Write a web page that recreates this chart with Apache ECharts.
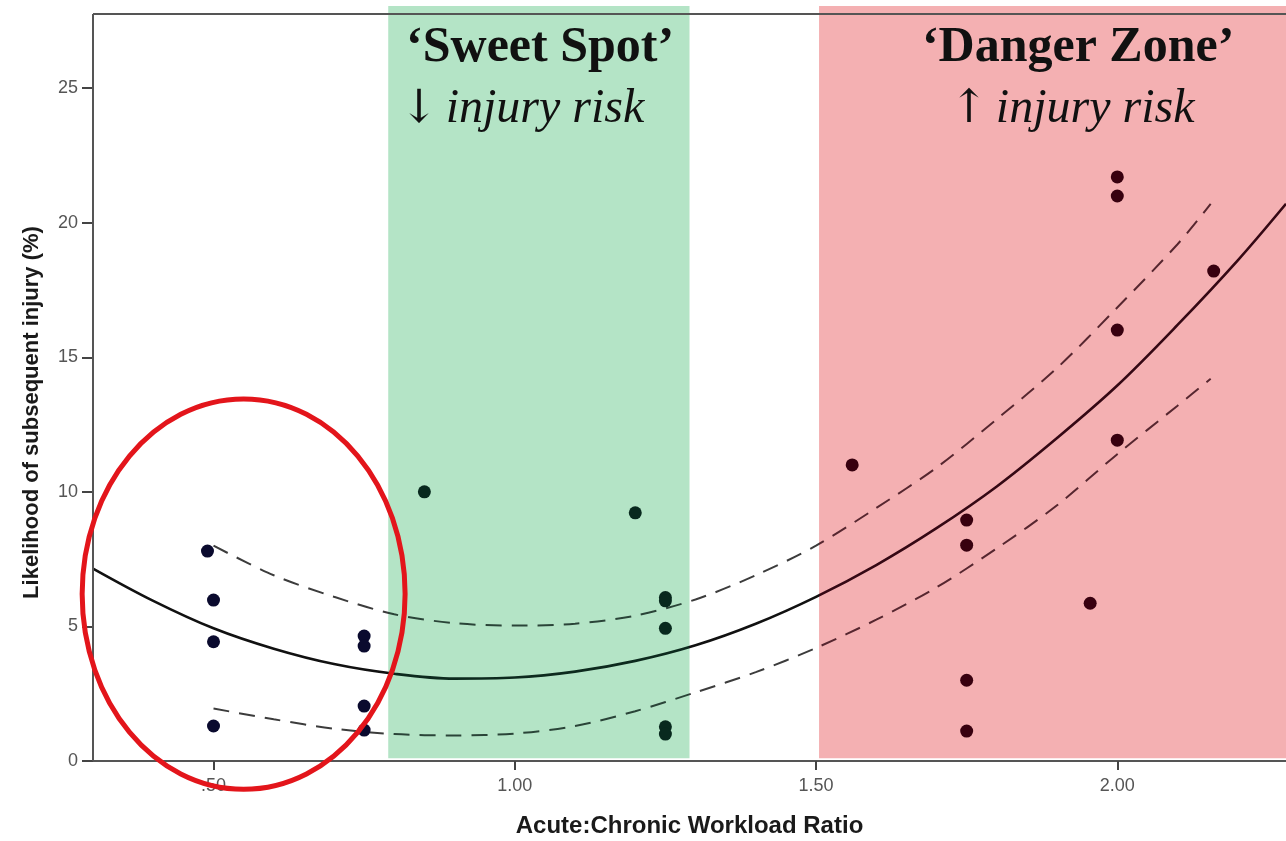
<!DOCTYPE html>
<html>
<head>
<meta charset="utf-8">
<script src="https://cdn.jsdelivr.net/npm/echarts@6/dist/echarts.min.js"></script>
<style>
  html, body { margin: 0; padding: 0; background: #fff; }
  #main { width: 1286px; height: 841px; }
</style>
</head>
<body>
<div id="main"></div>
<script>
// 坐标轴刻度
var xTicks = [0.5, 1.0, 1.5, 2.0];
var xTickLabels = ['.50', '1.00', '1.50', '2.00'];
var yTicks = [0, 5, 10, 15, 20, 25];

// 区域（Sweet Spot / Danger Zone）
var sweetSpot = [0.79, 1.29];
var dangerZone = [1.505, 2.28];

// 散点
var pointX = [0.49, 0.5, 0.5, 0.5, 0.75, 0.75, 0.75, 0.75,
  0.85, 1.2, 1.25, 1.25, 1.25, 1.25, 1.25,
  1.56, 1.75, 1.75, 1.75, 1.75, 1.955, 2.0, 2.0, 2.0, 2.0, 2.16];
var pointY = [7.8, 5.98, 4.43, 1.3, 4.64, 4.27, 2.04, 1.15,
  10.0, 9.22, 6.07, 5.95, 4.93, 1.27, 1.0,
  11.0, 8.95, 8.02, 3.0, 1.11, 5.86, 21.7, 20.99, 16.01, 11.92, 18.2];

// 拟合曲线
var fitX = [0.3, 0.4, 0.5, 0.6, 0.7, 0.8, 0.9, 1.0, 1.1, 1.2, 1.3, 1.4, 1.5, 1.6, 1.7, 1.8, 1.9, 2.0, 2.1, 2.2, 2.28];
var fitY = [7.15, 5.95, 4.93, 4.17, 3.6, 3.24, 3.06, 3.1, 3.32, 3.72, 4.3, 5.1, 6.1, 7.28, 8.65, 10.2, 12.0, 13.95, 16.2, 18.6, 20.7];

// 置信区间
var ciX = [0.5, 0.6, 0.7, 0.8, 0.9, 1.0, 1.1, 1.2, 1.3, 1.4, 1.5, 1.6, 1.7, 1.8, 1.9, 2.0, 2.1, 2.155];
var upperY = [8.0, 6.9, 6.1, 5.45, 5.12, 5.03, 5.1, 5.4, 6.0, 6.9, 8.0, 9.4, 10.9, 12.7, 14.6, 16.85, 19.2, 20.7];
var lowerY = [1.95, 1.55, 1.2, 1.0, 0.95, 1.02, 1.3, 1.85, 2.55, 3.3, 4.2, 5.25, 6.45, 7.9, 9.5, 11.4, 13.2, 14.2];

// 红圈
var ringCenter = [0.55, 6.2];
var ringRadius = [0.268, 7.25];

var xMin = 0.3, xMax = 2.28, yMax = 28.05, frameTop = 27.75;

function pairs (xs, ys) {
  return xs.map(function (x, i) { return [x, ys[i]]; });
}

var chart = echarts.init(document.getElementById('main'));

var zonePieces = function (c1, c2, c3, c4) {
  return [
    { lt: sweetSpot[0], color: c1 },
    { gte: sweetSpot[0], lt: sweetSpot[1], color: c2 },
    { gte: sweetSpot[1], lt: dangerZone[0], color: c3 },
    { gte: dangerZone[0], color: c4 }
  ];
};

chart.setOption({
  animation: false,
  grid: { left: 93, right: 0, top: 6, bottom: 80, containLabel: false, outerBoundsMode: 'none' },
  xAxis: {
    type: 'value',
    min: xMin,
    max: xMax,
    name: 'Acute:Chronic Workload Ratio',
    nameLocation: 'middle',
    nameGap: 53,
    nameTextStyle: { fontFamily: 'Liberation Sans', fontWeight: 'bold', fontSize: 24, color: '#1a1a1a' },
    axisLine: { lineStyle: { color: '#555', width: 2 } },
    axisTick: { customValues: xTicks, length: 9, lineStyle: { color: '#444', width: 2 } },
    axisLabel: {
      customValues: xTicks,
      margin: 16,
      fontFamily: 'Liberation Sans',
      fontSize: 18,
      color: '#555',
      formatter: function (v) {
        var i = xTicks.indexOf(v);
        return i >= 0 ? xTickLabels[i] : '';
      }
    },
    splitLine: { show: false }
  },
  yAxis: {
    type: 'value',
    min: 0,
    max: yMax,
    name: 'Likelihood of subsequent injury (%)',
    nameLocation: 'middle',
    nameGap: 50,
    nameTextStyle: { fontFamily: 'Liberation Sans', fontWeight: 'bold', fontSize: 22, color: '#1a1a1a', padding: [0, 58, 0, 0] },
    axisLine: { show: false },
    axisTick: { show: true, customValues: yTicks, length: 11, lineStyle: { color: '#444', width: 2 } },
    axisLabel: { customValues: yTicks, margin: 15, fontFamily: 'Liberation Sans', fontSize: 18, color: '#555' },
    splitLine: { show: false }
  },
  visualMap: [
    { show: false, type: 'piecewise', dimension: 0, seriesIndex: [2],
      pieces: zonePieces('#111111', '#0d2a1e', '#111111', '#350814') },
    { show: false, type: 'piecewise', dimension: 0, seriesIndex: [3, 4],
      pieces: zonePieces('#3c3c3c', '#2a4438', '#3c3c3c', '#56262f') },
    { show: false, type: 'piecewise', dimension: 0, seriesIndex: [5],
      pieces: zonePieces('#0a0a2e', '#08291e', '#111111', '#38000f') }
  ],
  series: [
    {
      name: 'zones',
      type: 'scatter',
      z: 1,
      data: [],
      markArea: {
        silent: true,
        data: [
          [{ coord: [sweetSpot[0], 0.1], itemStyle: { color: '#b4e4c6' } }, { coord: [sweetSpot[1], yMax] }],
          [{ coord: [dangerZone[0], 0.1], itemStyle: { color: '#f4b0b2' } }, { coord: [dangerZone[1], yMax] }]
        ]
      }
    },
    {
      name: 'frame',
      type: 'line',
      z: 3,
      data: [],
      markLine: {
        silent: true,
        symbol: 'none',
        label: { show: false },
        lineStyle: { color: '#555', width: 2, type: 'solid' },
        data: [
          [{ coord: [xMin, 0] }, { coord: [xMin, frameTop] }],
          [{ coord: [xMin, frameTop] }, { coord: [xMax, frameTop] }]
        ]
      }
    },
    {
      name: 'fit',
      type: 'line',
      z: 4,
      smooth: 0.35,
      showSymbol: false,
      lineStyle: { width: 2.6 },
      data: pairs(fitX, fitY)
    },
    {
      name: 'upper',
      type: 'line',
      z: 4,
      smooth: 0.3,
      showSymbol: false,
      lineStyle: { width: 2, type: [16, 10] },
      data: pairs(ciX, upperY)
    },
    {
      name: 'lower',
      type: 'line',
      z: 4,
      smooth: 0.3,
      showSymbol: false,
      lineStyle: { width: 2, type: [16, 10] },
      data: pairs(ciX, lowerY)
    },
    {
      name: 'points',
      type: 'scatter',
      z: 5,
      symbolSize: 13,
      itemStyle: { opacity: 1 },
      data: pairs(pointX, pointY)
    }
  ]
});

// 标注文字与红圈（按数据坐标换算）
function px (p) { return chart.convertToPixel({ gridIndex: 0 }, p); }
var c = px(ringCenter);
var e = px([ringCenter[0] + ringRadius[0], ringCenter[1] + ringRadius[1]]);
var sweetC = (sweetSpot[0] + sweetSpot[1]) / 2 + 0.002;
var line1 = px([sweetC, 26.5]);
var line2 = px([sweetC - 0.03, 24.2]);
var dLine1 = px([1.935, 26.5]);
var dLine2 = px([1.925, 24.2]);

var serif = '"Liberation Serif", "Times New Roman", serif';
function title (pos, text) {
  return {
    type: 'text', z: 100, x: pos[0], y: pos[1],
    style: { text: text, align: 'center', verticalAlign: 'middle', fill: '#111',
      font: 'bold 50px ' + serif }
  };
}
function sub (pos, arrow) {
  return {
    type: 'text', z: 100, x: pos[0], y: pos[1],
    style: {
      text: '{a|' + arrow + '}{s| }{t|injury risk}',
      align: 'center', verticalAlign: 'middle', fill: '#111',
      rich: {
        a: { fontFamily: 'DejaVu Serif', fontSize: 46, fill: '#111' },
        s: { fontFamily: serif, fontSize: 30 },
        t: { fontFamily: serif, fontStyle: 'italic', fontSize: 48, fill: '#111' }
      }
    }
  };
}

chart.setOption({
  graphic: [
    title(line1, '‘Sweet Spot’'),
    sub(line2, '↓'),
    title(dLine1, '‘Danger Zone’'),
    sub(dLine2, '↑'),
    {
      type: 'ellipse', z: 99,
      shape: { cx: c[0], cy: c[1], rx: e[0] - c[0], ry: c[1] - e[1] },
      style: { fill: 'none', stroke: '#e3151b', lineWidth: 5 }
    }
  ]
});
</script>
</body>
</html>
